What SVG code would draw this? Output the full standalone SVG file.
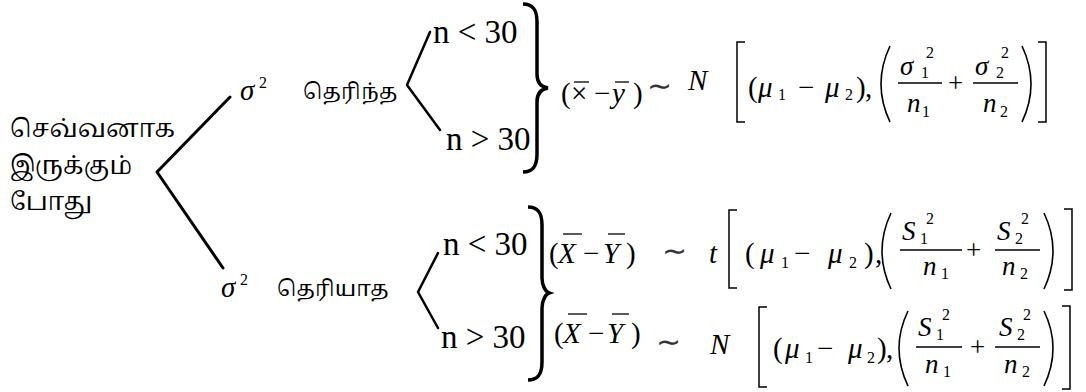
<svg xmlns="http://www.w3.org/2000/svg" width="1086" height="392" viewBox="0 0 1086 392">
<style>
.m{font-family:"Liberation Serif","Times New Roman",serif;font-size:29px;fill:#000}
.n{font-family:"Liberation Serif","Times New Roman",serif;font-size:33px;fill:#000}
.i{font-style:italic}
.s{font-size:16px}
.f{font-size:27px}
.ta{font-family:"Noto Serif Tamil","Noto Sans Tamil","Lohit Tamil","Latha","Noto Sans",sans-serif;font-size:22px;fill:#000}
.tl{font-size:24.5px}
.til{font-family:"DejaVu Sans",sans-serif;font-size:30px;fill:#333}
.ln{stroke:#000;fill:none;stroke-linecap:round;stroke-linejoin:round}
.br{stroke:#000;fill:none;stroke-width:3.5;stroke-linecap:butt}
.bk{stroke:#000;fill:none;stroke-width:1.5}
.bar{stroke:#000;stroke-width:1.3}
.pa{stroke:#000;fill:none;stroke-width:1.6}
</style>
<rect width="1086" height="392" fill="#fff"/>
<g id="connectors">
<path class="ln" stroke-width="3" d="M230,97 L157,172 L223,268"/>
<path class="ln" stroke-width="2.5" d="M430,32 L407,85 L440,130"/>
<path class="ln" stroke-width="2.5" d="M438,253 L418,292 L438,328"/>
<path class="br" d="M523,4 C533,4 537,10 537,22 L537,74 C537,82 541,87 548,88 C541,89 537,94 537,102 L537,154 C537,166 533,172 523,172"/>
<path class="br" d="M528,207 C538,207 542,213 542,225 L542,278 C542,286 546,292 549,293 C546,294 542,300 542,308 L542,362 C542,374 538,380 528,380"/>
</g>
<g id="root">
<text class="ta tl" x="10" y="137">செவ்வனாக</text>
<text class="ta tl" x="10" y="174">இருக்கும்</text>
<text class="ta tl" x="10" y="210">போது</text>
</g>
<g id="known">
<text class="m i" x="240" y="100" font-size="31">σ</text>
<text class="m s" x="259" y="88">2</text>
<text class="ta" x="303" y="99">தெரிந்த</text>
</g>
<g id="unknown">
<text class="m i" x="221" y="297" font-size="31">σ</text>
<text class="m s" x="240" y="285">2</text>
<text class="ta" x="277" y="296">தெரியாத</text>
</g>
<g id="known-small">
<text class="n" x="433" y="43">n &lt; 30</text>
</g>
<g id="known-large">
<text class="n" x="446" y="150">n &gt; 30</text>
</g>
<g id="unknown-small">
<text class="n" x="443" y="255">n &lt; 30</text>
</g>
<g id="unknown-large">
<text class="n" x="441" y="348">n &gt; 30</text>
</g>
<g id="formula-known">
<text class="m" x="561" y="103">(</text>
<text class="m" x="571" y="103" font-size="33">×</text>
<text class="m" x="594" y="103">−</text>
<text class="m i" x="612" y="103">y</text>
<text class="m" x="633" y="103">)</text>
<line class="bar" x1="574" y1="82" x2="589" y2="82"/>
<line class="bar" x1="615" y1="82" x2="629" y2="82"/>
<text class="til" x="647" y="96">∼</text>
<text class="m i" x="688" y="90" font-size="19">N</text>
<path class="bk" d="M745,42 L737,42 L737,122 L745,122"/>
<text class="m" x="748" y="97">(</text>
<text class="m i" x="758" y="97">μ</text>
<text class="m s" x="778" y="100">1</text>
<text class="m" x="798" y="97">−</text>
<text class="m i" x="825" y="97">μ</text>
<text class="m s" x="845" y="100">2</text>
<text class="m" x="856" y="97">)</text>
<text class="m" x="865" y="97">,</text>
<path class="pa" d="M890,46 Q872,84 890,122"/>
<text class="m f i" x="900" y="75">σ</text>
<text class="m s" x="921" y="78">1</text>
<text class="m s" x="926" y="58">2</text>
<line class="bar" x1="898" y1="83" x2="942" y2="83"/>
<text class="m f i" x="907" y="112">n</text>
<text class="m s" x="922" y="117">1</text>
<text class="m f" x="948" y="92">+</text>
<text class="m f i" x="975" y="75">σ</text>
<text class="m s" x="996" y="78">2</text>
<text class="m s" x="1001" y="58">2</text>
<line class="bar" x1="973" y1="83" x2="1018" y2="83"/>
<text class="m f i" x="983" y="112">n</text>
<text class="m s" x="1000" y="117">2</text>
<path class="pa" d="M1022,46 Q1040,84 1022,122"/>
<path class="bk" d="M1038,42 L1046,42 L1046,122 L1038,122"/>
</g>
<g id="formula-unknown-small">
<text class="m" x="549" y="263">(</text>
<text class="m i" x="558" y="263">X</text>
<text class="m" x="583" y="263">−</text>
<text class="m i" x="603" y="263">Y</text>
<text class="m" x="626" y="263">)</text>
<line class="bar" x1="563" y1="234" x2="582" y2="234"/>
<line class="bar" x1="608" y1="234" x2="625" y2="234"/>
<text class="til" x="662" y="261">∼</text>
<text class="m i" x="709" y="263">t</text>
<path class="bk" d="M737,210 L729,210 L729,288 L737,288"/>
<text class="m" x="745" y="263">(</text>
<text class="m i" x="760" y="263">μ</text>
<text class="m s" x="781" y="268">1</text>
<text class="m" x="794" y="263">−</text>
<text class="m i" x="828" y="263">μ</text>
<text class="m s" x="849" y="268">2</text>
<text class="m" x="864" y="263">)</text>
<text class="m" x="875" y="263">,</text>
<path class="pa" d="M891,213 Q873,251 891,289"/>
<text class="m f i" x="902" y="240">S</text>
<text class="m s" x="920" y="244">1</text>
<text class="m s" x="926" y="224">2</text>
<line class="bar" x1="900" y1="250" x2="962" y2="250"/>
<text class="m f i" x="923" y="275">n</text>
<text class="m s" x="941" y="279">1</text>
<text class="m f" x="966" y="259">+</text>
<text class="m f i" x="997" y="240">S</text>
<text class="m s" x="1015" y="244">2</text>
<text class="m s" x="1021" y="224">2</text>
<line class="bar" x1="995" y1="250" x2="1040" y2="250"/>
<text class="m f i" x="1002" y="275">n</text>
<text class="m s" x="1020" y="279">2</text>
<path class="pa" d="M1044,213 Q1062,251 1044,289"/>
<path class="bk" d="M1064,209 L1072,209 L1072,290 L1064,290"/>
</g>
<g id="formula-unknown-large">
<text class="m" x="554" y="343">(</text>
<text class="m i" x="563" y="343">X</text>
<text class="m" x="588" y="343">−</text>
<text class="m i" x="607" y="343">Y</text>
<text class="m" x="631" y="343">)</text>
<line class="bar" x1="568" y1="314" x2="587" y2="314"/>
<line class="bar" x1="612" y1="314" x2="629" y2="314"/>
<text class="til" x="656" y="352">∼</text>
<text class="m i" x="710" y="354">N</text>
<path class="bk" d="M767,307 L759,307 L759,387 L767,387"/>
<text class="m" x="773" y="358">(</text>
<text class="m i" x="785" y="358">μ</text>
<text class="m s" x="805" y="363">1</text>
<text class="m" x="817" y="358">−</text>
<text class="m i" x="848" y="358">μ</text>
<text class="m s" x="867" y="363">2</text>
<text class="m" x="877" y="358">)</text>
<text class="m" x="886" y="358">,</text>
<path class="pa" d="M908,311 Q890,348 908,386"/>
<text class="m f i" x="918" y="336">S</text>
<text class="m s" x="936" y="340">1</text>
<text class="m s" x="942" y="320">2</text>
<line class="bar" x1="916" y1="347" x2="962" y2="347"/>
<text class="m f i" x="925" y="373">n</text>
<text class="m s" x="943" y="377">1</text>
<text class="m f" x="970" y="356">+</text>
<text class="m f i" x="999" y="336">S</text>
<text class="m s" x="1017" y="340">2</text>
<text class="m s" x="1023" y="320">2</text>
<line class="bar" x1="995" y1="347" x2="1040" y2="347"/>
<text class="m f i" x="1004" y="373">n</text>
<text class="m s" x="1022" y="377">2</text>
<path class="pa" d="M1044,311 Q1062,348 1044,386"/>
<path class="bk" d="M1062,306 L1070,306 L1070,389 L1062,389"/>
</g>
</svg>
